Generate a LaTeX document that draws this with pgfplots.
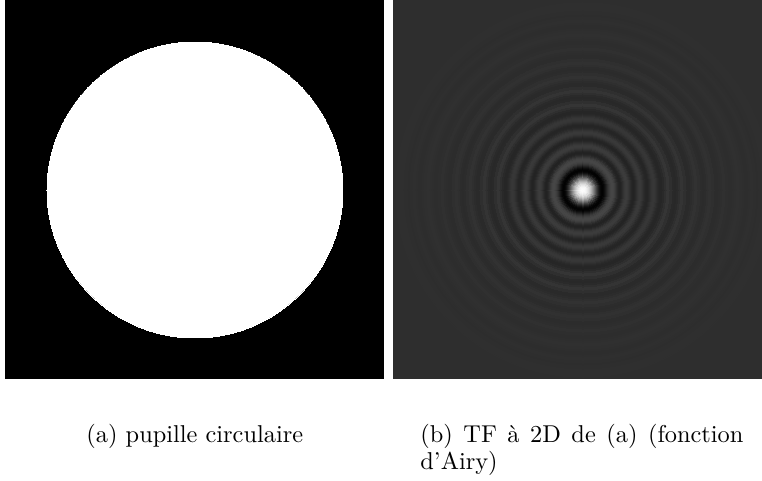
\documentclass[border=0pt]{standalone}
\usepackage{pgfplots}
\pgfplotsset{compat=1.18}
\usepackage{pgfplotstable}
\definecolor{bggray}{RGB}{46,46,46}

% radial profile of the Airy pattern: radius (px), grey level (0-255)
\pgfplotstableread{
x y r g
0 0 187 47
0 0 184 47
0 0 181 47
0 0 179 46
0 0 177 46
0 0 175 45
0 0 173 46
0 0 170 47
0 0 167 46
0 0 165 45
0 0 163 45
0 0 161 46
0 0 159 47
0 0 156 48
0 0 153 47
0 0 151 46
0 0 149 45
0 0 147 45
0 0 145 46
0 0 142 48
0 0 139 46
0 0 137 45
0 0 135 44
0 0 133 44
0 0 131 47
0 0 128 49
0 0 125 47
0 0 123 44
0 0 121 43
0 0 119 44
0 0 117 47
0 0 114 50
0 0 111 47
0 0 109 44
0 0 107 42
0 0 105 42
0 0 103 47
0 0 100 52
0 0 97 47
0 0 95 42
0 0 93 40
0 0 91 41
0 0 89 47
0 0 86 53
0 0 83 47
0 0 81 41
0 0 79 38
0 0 78 38
0 0 77 38
0 0 76 40
0 0 75 43
0 0 74 47
0 0 73 51
0 0 72 54
0 0 71 55
0 0 70 54
0 0 69 52
0 0 68 48
0 0 67 44
0 0 66 40
0 0 65 37
0 0 64 37
0 0 63 38
0 0 62 41
0 0 61 45
0 0 60 50
0 0 59 54
0 0 58 57
0 0 57 57
0 0 56 55
0 0 55 51
0 0 54 46
0 0 53 41
0 0 52 37
0 0 51 35
0 0 50 36
0 0 49 39
0 0 48 44
0 0 47 49
0 0 46 54
0 0 45 58
0 0 44 60
0 0 43 59
0 0 42 56
0 0 41 51
0 0 40 45
0 0 39 39
0 0 38 35
0 0 37 34
0 0 36 36
0 0 35 41
0 0 34 48
0 0 33 56
0 0 32 63
0 0 31 68
0 0 30 70
0 0 29 70
0 0 28 67
0 0 27 62
0 0 26 55
0 0 25 46
0 0 24 35
0 0 23 24
0 0 22 14
0 0 21 6
0 0 20 2
0 0 19 3
0 0 18 8
0 0 17 18
0 0 16 32
0 0 15 49
0 0 14 68
0 0 13 89
0 0 12 111
0 0 11 133
0 0 10 154
0 0 9 174
0 0 8 192
0 0 7 207
0 0 6 220
0 0 5 230
0 0 4 238
0 0 3 244
0 0 2 248
0 0 1 250
}\airy

\begin{document}
\begin{tikzpicture}
\path[use as bounding box] (0,0) rectangle (317.53pt,-200.43pt);

% (a) circular pupil
\begin{axis}[
  at={(2.08pt,0pt)}, anchor=north west,
  x=0.4167pt, y=0.4167pt,
  xmin=-190, xmax=189, ymin=-189, ymax=190,
  hide axis, clip marker paths=true,
]
\addplot[fill=black, draw=none] coordinates {(-190,-189) (189,-189) (189,190) (-190,190)} -- cycle;
\addplot[only marks, mark=*, mark size=61.67pt, mark options={draw=white, fill=white, line width=0pt}] coordinates {(0,0)};
\end{axis}

% (b) Airy pattern
\begin{axis}[
  at={(163.76pt,0pt)}, anchor=north west,
  x=0.4167pt, y=0.4167pt,
  xmin=-190, xmax=179, ymin=-189, ymax=190,
  hide axis, clip marker paths=true,
  colormap={grey}{gray(0cm)=(0); gray(1cm)=(1)},
  point meta min=0, point meta max=255,
]
\addplot[fill=bggray, draw=none] coordinates {(-190,-189) (179,-189) (179,190) (-190,190)} -- cycle;
\addplot[scatter, only marks, mark=*, point meta=explicit,
  scatter/use mapped color={draw=mapped color, fill=mapped color},
  visualization depends on={\thisrow{r} \as \rad},
  scatter/@pre marker code/.append style={/tikz/mark size=\rad*0.4167pt},
  mark options={line width=0pt}]
  table[x=x, y=y, meta=g] {\airy};
\end{axis}

\fontsize{10.15}{12}\selectfont
\node[anchor=base west, inner sep=0pt] at (35.84pt,-184.2pt) {(a) pupille circulaire};
\node[anchor=base west, inner sep=0pt] at (175.0pt,-184.2pt) {\makebox[134.6pt][s]{(b) TF à 2D de (a) (fonction}};
\node[anchor=base west, inner sep=0pt] at (175.0pt,-195.8pt) {d'Airy)};
\end{tikzpicture}
\end{document}
